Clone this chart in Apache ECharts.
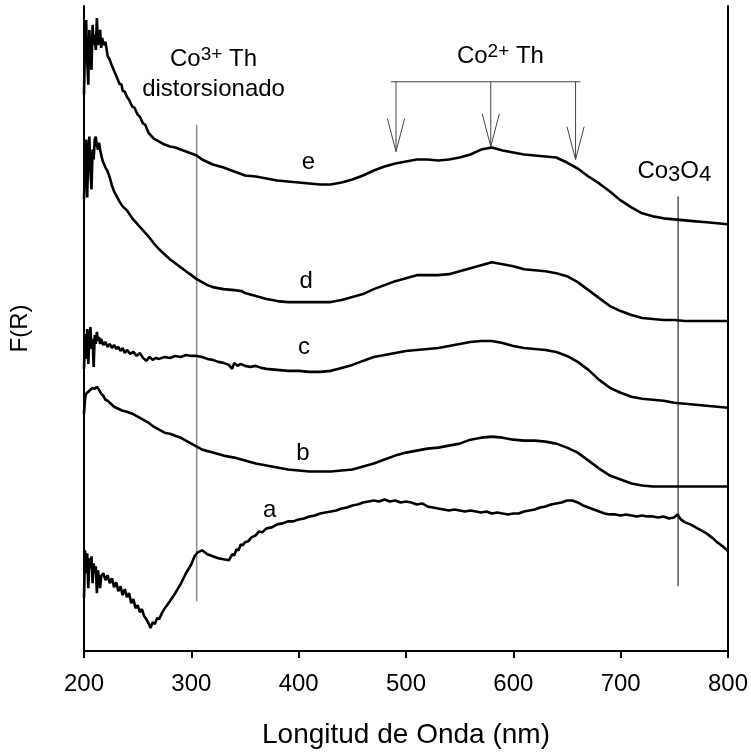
<!DOCTYPE html>
<html><head><meta charset="utf-8">
<script src="https://cdn.jsdelivr.net/npm/echarts/dist/echarts.min.js"></script>
<style>html,body{margin:0;padding:0;background:#fff}#c{width:751px;height:754px}</style>
</head><body><div id="c"></div>
<script>
// Wavelength (nm) vs F(R) (arbitrary units, offset curves)
const curveE = [[200,558],[201,613],[202,633],[203,593],[204,568],[205,623],[206,598],[207,583],[208,628],[209,608],[210,618],[211,603],[212,635],[213,608],[214,613],[215,623],[216,605],[217,615],[218,608],[220,611],[222,597],[224,593],[226,587],[228,582],[230,577],[231,579],[233,569],[235,568],[236,562],[238,561],[240,556],[242,553],[245,546],[247,545],[250,538],[252,536],[255,529],[257,528],[260,520],[265,514],[270,511],[275,508],[280,506],[285,505],[290,503],[295,501],[300,499],[305,497],[310,493],[320,488],[330,485],[340,481],[350,477],[360,476],[370,474],[380,472],[390,471],[400,470],[410,469],[420,468],[430,468],[440,470],[450,473],[460,477],[470,482],[480,486],[490,489],[500,491],[510,493],[520,493],[530,492],[540,493],[550,495],[560,498],[570,503],[580,505],[590,502],[600,500],[610,498],[620,497],[630,496],[640,495],[650,490],[660,484],[670,476],[680,469],[690,461],[700,452],[710,445],[720,439],[730,436],[740,434],[750,433],[760,432],[770,431],[780,430],[790,429],[800,428]];
const curveD = [[200,453],[201,488],[202,513],[203,455],[204,503],[205,516],[206,481],[207,463],[208,503],[209,493],[210,513],[211,516],[212,507],[213,503],[214,510],[215,503],[216,498],[217,493],[218,490],[220,485],[222,481],[224,475],[226,467],[228,461],[230,457],[233,451],[236,446],[240,442],[245,434],[250,428],[255,422],[260,416],[265,409],[270,403],[275,398],[280,393],[285,389],[290,385],[295,381],[300,377],[305,373],[310,370],[315,367],[320,365],[325,364],[330,363],[340,362],[347,361],[350,359],[360,356],[370,353],[380,351],[390,350],[400,350],[410,350],[420,350],[430,350],[440,352],[450,355],[460,358],[470,363],[480,367],[490,371],[500,374],[510,377],[520,377],[530,377],[540,378],[550,381],[560,384],[570,387],[580,390],[590,388],[600,386],[610,383],[620,382],[630,381],[640,379],[650,376],[660,370],[670,362],[680,354],[690,346],[700,341],[710,337],[720,334],[730,333],[740,332],[750,332],[760,331],[780,331],[800,331]];
const curveC = [[200,283],[201,318],[202,293],[203,323],[204,288],[205,315],[206,325],[207,303],[208,313],[209,285],[210,317],[211,308],[212,320],[213,311],[214,315],[215,308],[216,313],[218,307],[220,310],[222,305],[224,308],[226,304],[228,307],[230,303],[232,305],[234,301],[236,304],[238,299],[240,302],[243,298],[246,300],[249,296],[252,299],[255,294],[258,291],[261,295],[264,292],[267,294],[270,293],[275,295],[280,294],[285,296],[290,295],[295,297],[300,296],[305,296],[310,295],[315,293],[320,292],[325,290],[330,289],[335,287],[338,283],[340,289],[343,286],[346,288],[350,286],[355,285],[360,286],[365,284],[370,283],[380,282],[390,281],[400,281],[410,280],[420,280],[430,281],[440,284],[450,287],[460,291],[470,295],[480,297],[490,299],[500,301],[510,302],[520,303],[530,304],[540,306],[550,308],[560,310],[570,311],[580,311],[590,309],[600,306],[610,304],[620,303],[630,302],[640,300],[650,296],[660,290],[670,282],[680,272],[690,264],[700,259],[710,255],[720,253],[730,252],[740,251],[750,249],[760,248],[770,247],[780,246],[790,245],[800,244]];
const curveB = [[200,238],[201,253],[202,258],[204,260],[206,262],[208,264],[210,263],[212,265],[214,262],[216,258],[218,256],[220,252],[222,251],[225,248],[228,245],[232,243],[236,241],[240,240],[245,238],[250,235],[255,232],[260,229],[265,225],[270,222],[275,219],[280,218],[285,216],[290,214],[295,211],[300,208],[305,205],[310,202],[320,199],[330,196],[340,194],[350,191],[360,188],[370,186],[380,184],[390,182],[400,181],[410,180],[420,180],[430,180],[440,181],[450,182],[460,185],[470,188],[480,192],[490,196],[500,199],[510,201],[520,203],[530,204],[540,206],[550,208],[560,212],[570,214],[580,215],[590,214],[600,212],[610,211],[620,211],[630,210],[640,208],[650,204],[660,199],[670,191],[680,183],[690,176],[700,172],[710,168],[720,166],[730,165],[760,165],[800,165]];
const curveA = [[200,53],[201,101],[202,78],[203,98],[204,63],[205,93],[206,83],[207,95],[208,68],[209,88],[210,78],[211,85],[212,58],[213,81],[214,73],[215,63],[216,75],[218,78],[220,71],[222,76],[224,68],[226,73],[228,64],[230,69],[232,60],[234,65],[236,56],[238,62],[240,54],[242,58],[244,48],[246,52],[248,43],[250,46],[252,39],[254,42],[256,35],[258,32],[260,28],[262,23],[264,29],[266,27],[268,33],[270,32],[273,39],[276,44],[280,50],[285,58],[290,67],[295,78],[300,87],[303,95],[306,99],[310,101],[315,97],[320,95],[325,93],[330,92],[335,91],[338,97],[340,96],[342,102],[344,101],[346,107],[348,106],[350,109],[353,110],[356,114],[360,116],[363,120],[366,119],[370,123],[375,124],[380,127],[385,128],[390,130],[395,130],[400,132],[405,133],[410,135],[415,136],[420,138],[425,139],[430,140],[435,141],[440,143],[445,144],[450,146],[455,147],[460,149],[465,150],[470,151],[475,150],[480,152],[485,150],[490,151],[495,149],[500,150],[505,149],[510,147],[515,148],[520,145],[525,144],[530,143],[535,142],[540,141],[545,142],[550,141],[555,140],[560,141],[565,140],[570,139],[575,140],[580,138],[585,139],[590,138],[595,137],[600,138],[605,138],[610,140],[615,141],[620,142],[625,144],[630,145],[635,147],[640,148],[645,149],[650,151],[655,151],[660,149],[665,146],[670,144],[675,142],[680,140],[685,138],[690,137],[695,137],[700,136],[705,137],[710,136],[715,135],[720,136],[725,135],[730,135],[735,134],[740,135],[745,133],[750,134],[753,137],[756,132],[760,129],[765,127],[770,124],[775,121],[780,118],[786,113],[790,109],[795,105],[800,100]];

const xTicks = [200, 300, 400, 500, 600, 700, 800];
// annotation anchors (data units)
const co3Line = [[305, 528], [305, 50]];
const co3o4Line = [[753.5, 456], [753.5, 65]];
const bracket = [[486, 571], [662.5, 571]];
const arrowX = [490.7, 579, 658];
const arrowTip = [501, 506, 493];
const curveLabels = [['e', 409, 490], ['d', 407, 371], ['c', 405, 305], ['b', 404, 198], ['a', 373, 141]];
const noteLabels = [
  ['{n|Co}{p|3+}{n| Th}', 320.7, 593],
  ['{n|distorsionado}', 320.7, 563],
  ['{n|Co}{p|2+}{n| Th}', 588, 596],
  ['{n|Co}{b|3}{n|O}{b|4}', 750, 481]
];

const FONT = 'Liberation Sans';
const chart = echarts.init(document.getElementById('c'), null, {renderer: 'canvas'});

const HEAD_W = 8, HEAD_H = 33;
const arrowSegs = [];
arrowX.forEach((x, i) => {
  arrowSegs.push({coords: [[x, bracket[0][1]], [x, arrowTip[i]]]});
  arrowSegs.push({coords: [[x - HEAD_W, arrowTip[i] + HEAD_H], [x, arrowTip[i]], [x + HEAD_W, arrowTip[i] + HEAD_H]]});
});
arrowSegs.push({coords: bracket});

const txt = {fontFamily: FONT, color: '#000', textBorderWidth: 0, textBorderColor: 'transparent', textShadowBlur: 0, opacity: 1};
const rich = {
  n: Object.assign({fontSize: 24}, txt),
  p: Object.assign({fontSize: 19, verticalAlign: 'top', padding: [0, 0, 10, 0]}, txt),
  b: Object.assign({fontSize: 22, verticalAlign: 'bottom', padding: [6, 0, 0, 0]}, txt)
};

function curve(name, data) {
  return {name, type: 'line', data, showSymbol: false, symbol: 'none',
    lineStyle: {color: '#000', width: 2.6}, animation: false, silent: true, z: 3};
}
const frameAxisX = {type: 'value', position: 'top', min: 200, max: 800,
  axisLine: {show: true, lineStyle: {color: '#000', width: 2}},
  axisTick: {show: false}, axisLabel: {show: false}, splitLine: {show: false}};
const frameAxisY = {type: 'value', position: 'right', min: 0, max: 647,
  axisLine: {show: true, lineStyle: {color: '#000', width: 2}},
  axisTick: {show: false}, axisLabel: {show: false}, splitLine: {show: false}};

chart.setOption({
  animation: false,
  backgroundColor: '#fff',
  grid: {left: 82, right: 23, top: 6, bottom: 100, containLabel: false},
  xAxis: [{
    type: 'value', min: 200, max: 800, interval: 100, position: 'bottom',
    name: 'Longitud de Onda (nm)', nameLocation: 'middle', nameGap: 70,
    nameTextStyle: {fontSize: 28, fontFamily: FONT, color: '#000'},
    axisLine: {show: true, onZero: false, lineStyle: {color: '#000', width: 2}},
    axisTick: {show: true, inside: false, length: 7, lineStyle: {color: '#000', width: 2}},
    axisLabel: {fontSize: 24, fontFamily: FONT, color: '#000', margin: 21,
      formatter: v => xTicks.includes(v) ? String(v) : ''},
    splitLine: {show: false}
  }, frameAxisX],
  yAxis: [{
    type: 'value', min: 0, max: 647, position: 'left',
    name: 'F(R)', nameLocation: 'middle', nameGap: 52,
    nameTextStyle: {fontSize: 24, fontFamily: FONT, color: '#000'},
    axisLine: {show: true, onZero: false, lineStyle: {color: '#000', width: 2}},
    axisTick: {show: false}, axisLabel: {show: false}, splitLine: {show: false}
  }, frameAxisY],
  series: [
    curve('a', curveA), curve('b', curveB), curve('c', curveC), curve('d', curveD), curve('e', curveE),
    {type: 'lines', coordinateSystem: 'cartesian2d', polyline: true, silent: true, z: 2,
      lineStyle: {color: '#8a8a8a', width: 1.5, opacity: 1}, data: [{coords: co3Line}]},
    {type: 'lines', coordinateSystem: 'cartesian2d', polyline: true, silent: true, z: 2,
      lineStyle: {color: '#000', width: 1, opacity: 1}, data: [{coords: co3o4Line}]},
    {type: 'lines', coordinateSystem: 'cartesian2d', polyline: true, silent: true, z: 2,
      lineStyle: {color: '#444', width: 1, opacity: 1}, data: arrowSegs},
    {type: 'scatter', symbolSize: 0, silent: true, z: 5, itemStyle: {color: '#000', opacity: 1},
      data: curveLabels.map(l => ({value: [l[1], l[2]], name: l[0]})),
      label: Object.assign({show: true, position: 'inside', formatter: p => p.name, fontSize: 24}, txt)},
    {type: 'scatter', symbolSize: 0, silent: true, z: 5, itemStyle: {color: '#000', opacity: 1},
      data: noteLabels.map(l => ({value: [l[1], l[2]], name: l[0]})),
      label: Object.assign({show: true, position: 'inside', formatter: p => p.name, rich}, txt)}
  ]
});
</script></body></html>
